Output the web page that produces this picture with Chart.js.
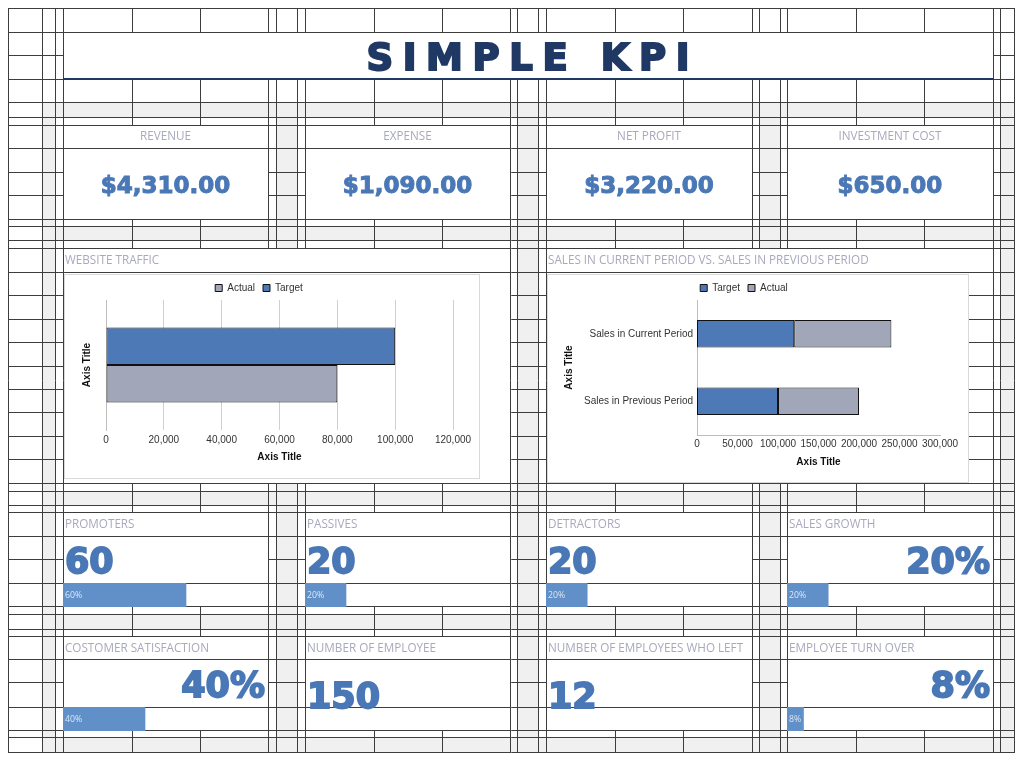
<!DOCTYPE html>
<html><head><meta charset="utf-8">
<script src="https://cdn.jsdelivr.net/npm/chart.js@4.4.1/dist/chart.umd.min.js"></script>
<style>
html,body{margin:0;padding:0;background:#fff;}
#page{position:relative;width:1023px;height:761px;overflow:hidden;}
#bg{position:absolute;left:0;top:0;}
.t{position:absolute;white-space:nowrap;}
.lbl{font-family:'Open Sans',sans-serif;font-size:11.7px;line-height:11.7px;color:#a7a9bc;}
.val{font-family:'DejaVu Sans',sans-serif;font-weight:bold;color:#4a78b6;-webkit-text-stroke:1px #4a78b6;}
.big{-webkit-text-stroke:1.8px #4a78b6;}
.frame{position:absolute;background:#fff;border:1px solid #d9d9d9;box-sizing:border-box;}
.frame canvas{display:block;}
.pb{position:absolute;}
.pct{font-family:'Open Sans',sans-serif;font-size:8.7px;line-height:8.7px;color:#dbe6f3;}
</style></head>
<body><div id="page"><canvas id="bg" width="1023" height="761"></canvas></div>
<script>
// ---------------- DATA ----------------
const titleText = 'SIMPLE KPI';
const kpiLabels = ['REVENUE', 'EXPENSE', 'NET PROFIT', 'INVESTMENT COST'];
const kpiValues = [4310, 1090, 3220, 650];

const trafficTitle = 'WEBSITE TRAFFIC';
const trafficCategories = [''];
const trafficTarget = [100000];
const trafficActual = [80000];
const trafficTicks = [0, 20000, 40000, 60000, 80000, 100000, 120000];

const salesTitle = 'SALES IN CURRENT PERIOD VS. SALES IN PREVIOUS PERIOD';
const salesCategories = ['Sales in Current Period', 'Sales in Previous Period'];
const salesTarget = [120000, 100000];
const salesActual = [120000, 100000];
const salesTicks = [0, 50000, 100000, 150000, 200000, 250000, 300000];

const axisTitle = 'Axis Title';

const metricLabels = ['PROMOTERS', 'PASSIVES', 'DETRACTORS', 'SALES GROWTH',
  'COSTOMER SATISFACTION', 'NUMBER OF EMPLOYEE', 'NUMBER OF EMPLOYEES WHO LEFT', 'EMPLOYEE TURN OVER'];
const metricValues = [60, 20, 20, 20, 40, 150, 12, 8];
const metricUnits = ['', '', '', '%', '%', '', '', '%'];
const metricBars = [60, 20, 20, 20, 40, null, null, 8];

// ---------------- LAYOUT / STYLE ----------------
const BLUE = '#4e79b7', GRAYBAR = '#a1a6b9', PBAR = '#6190c9';
const ROWS = [8,32,55,79,102,117,125,148,172,195,219,226,240,248,272,295,319,342,366,389,412,436,459,483,491,505,512,536,559,583,606,614,629,636,659,682,707,730,737,752];
const COLS = [8,42,55,63,132,200,268,276,297,305,374,442,510,517,538,546,615,683,752,759,780,787,856,924,993,1000,1014];
const PANELS = [[63,268],[305,510],[546,752],[787,993]];
const page = document.getElementById('page');

// background sheet grid
const g = document.getElementById('bg').getContext('2d');
g.fillStyle = '#fff'; g.fillRect(0,0,1023,761);
g.fillStyle = '#f0f0f0';
[[42,55],[276,297],[517,538],[759,780],[1000,1014]].forEach(([a,b]) => g.fillRect(a,102,b-a,752-102));
[[102,117],[226,240],[491,505],[614,629],[737,752]].forEach(([a,b]) => g.fillRect(42,a,1014-42,b-a));
g.strokeStyle = '#3d3d3d'; g.lineWidth = 1;
function hl(y,x0,x1){g.beginPath();g.moveTo(x0,y+0.5);g.lineTo(x1+1,y+0.5);g.stroke();}
function vl(x,y0,y1){g.beginPath();g.moveTo(x+0.5,y0);g.lineTo(x+0.5,y1+1);g.stroke();}
ROWS.forEach(y => hl(y,8,1014));
COLS.forEach(x => vl(x,8,752));
function merge(x0,y0,x1,y1){g.fillStyle='#fff';g.fillRect(x0+1,y0+1,x1-x0-1,y1-y0-1);}
merge(63,32,993,79);
PANELS.forEach(([a,b]) => {
  merge(a,125,b,148); merge(a,148,b,219);
  merge(a,512,b,536); merge(a,536,b,583); merge(a,583,b,606);
  merge(a,636,b,659); merge(a,659,b,707); merge(a,707,b,730);
});
merge(63,248,510,272); merge(63,272,510,483);
merge(546,248,993,272); merge(546,272,993,483);
g.strokeStyle = '#3d3d3d';
[295,319,342,366,389,412,436,459].forEach(y => hl(y,968,993));
g.fillStyle = '#1f3864'; g.fillRect(63,78,931,2);

function addText(cls, text, css){
  const d = document.createElement('div');
  d.className = 't ' + cls; d.textContent = text;
  Object.assign(d.style, css); page.appendChild(d); return d;
}

// title
const tdiv = addText('', '', {left:'63px', width:'930px', top:'39px', textAlign:'center'});
const tspan = document.createElement('span');
tspan.textContent = titleText;
Object.assign(tspan.style, {fontFamily:"'DejaVu Sans'", fontWeight:'bold', fontSize:'37px', lineHeight:'37px',
  color:'#1f3864', webkitTextStroke:'2px #1f3864', letterSpacing:'9.6px', wordSpacing:'1px', marginRight:'-9.6px', display:'inline-block'});
tdiv.appendChild(tspan);

// KPI boxes
const money = v => '$' + v.toLocaleString('en-US', {minimumFractionDigits:2, maximumFractionDigits:2});
kpiLabels.forEach((l,i) => {
  const [a,b] = PANELS[i];
  addText('lbl', l, {left:a+'px', width:(b-a)+'px', textAlign:'center', top:'129.6px'});
  addText('val', money(kpiValues[i]), {left:a+'px', width:(b-a)+'px', textAlign:'center', top:'173.5px', fontSize:'23px', lineHeight:'23px'});
});

// chart section labels
addText('lbl', trafficTitle, {left:'65px', top:'253.6px'});
addText('lbl', salesTitle, {left:'548px', top:'253.6px'});

// metric panels
const metricAlign = ['left','left','left','right','right','left','left','right'];
metricLabels.forEach((l,i) => {
  const [a,b] = PANELS[i % 4];
  const lower = i >= 4;
  const labelTop = lower ? 641.6 : 517.6;
  const barTop = lower ? 707 : 583;
  addText('lbl', l, {left:(a+2)+'px', top:labelTop+'px'});
  const txt = metricValues[i] + metricUnits[i];
  const baseline = lower ? (metricUnits[i] === '%' ? 698 : 709) : 574;
  const css = {top:(baseline - 29.6)+'px', fontSize:'35px', lineHeight:'35px'};
  if (metricAlign[i] === 'left') css.left = (a+2)+'px';
  else { css.left = a+'px'; css.width = (b-a-3)+'px'; css.textAlign = 'right'; }
  addText('val big', txt, css);
  if (metricBars[i] != null) {
    const c = document.createElement('canvas');
    c.className = 'pb'; c.width = b-a; c.height = 24;
    c.style.left = a+'px'; c.style.top = barTop+'px';
    page.appendChild(c);
    new Chart(c, {
      type:'bar',
      data:{labels:[''], datasets:[{data:[metricBars[i]], backgroundColor:PBAR, borderWidth:0, barPercentage:1, categoryPercentage:1}]},
      options:{indexAxis:'y', responsive:false, animation:false, events:[],
        plugins:{legend:{display:false}, tooltip:{enabled:false}},
        layout:{padding:0},
        scales:{x:{display:false, min:0, max:100}, y:{display:false}}}
    });
    addText('pct', metricBars[i] + '%', {left:(a+2)+'px', top:(barTop+7.6)+'px'});
  }
});

// ---------------- CHARTS ----------------
Chart.defaults.font.family = "'Liberation Sans', Arial, sans-serif";
Chart.defaults.font.size = 10;
Chart.defaults.color = '#333';

function makeFrame(left, top, w, h){
  const f = document.createElement('div');
  f.className = 'frame';
  Object.assign(f.style, {left:left+'px', top:top+'px', width:w+'px', height:h+'px'});
  const c = document.createElement('canvas');
  c.width = w-2; c.height = h-2;
  f.appendChild(c); page.appendChild(f); return c;
}

const tickStep = arr => arr[1]-arr[0];

// Website traffic
new Chart(makeFrame(64,274,416,205), {
  type:'bar',
  data:{labels:trafficCategories, datasets:[
    {label:'Target', data:trafficTarget, backgroundColor:BLUE, borderColor:'#111', borderWidth:1, borderSkipped:false, categoryPercentage:0.577, barPercentage:1},
    {label:'Actual', data:trafficActual, backgroundColor:GRAYBAR, borderColor:'#111', borderWidth:1, borderSkipped:false, categoryPercentage:0.577, barPercentage:1}
  ]},
  options:{indexAxis:'y', responsive:false, animation:false, locale:'en-US', events:[],
    layout:{padding:{left:0, right:26, top:0, bottom:0}},
    plugins:{tooltip:{enabled:false},
      legend:{position:'top', reverse:true, maxHeight:25, labels:{boxWidth:7, boxHeight:7, padding:8, color:'#333', font:{size:10}}}},
    scales:{
      x:{min:trafficTicks[0], max:trafficTicks[trafficTicks.length-1],
        ticks:{stepSize:tickStep(trafficTicks), padding:4, color:'#333', maxRotation:0},
        grid:{color:'#d0d0d0', drawTicks:false}, border:{display:false},
        title:{display:true, text:axisTitle, color:'#111', font:{size:10, weight:'bold'}, padding:{top:0, bottom:14.5}},
        afterFit:s => { s.height = 48; }},
      y:{ticks:{display:false}, grid:{display:false}, border:{display:true, color:'#bdbdbd'},
        title:{display:true, text:axisTitle, color:'#111', font:{size:10, weight:'bold'}, padding:{top:16.5, bottom:0}},
        afterFit:s => { s.width = 41; }}
    }}
});

// Sales current vs previous
new Chart(makeFrame(547,274,422,209), {
  type:'bar',
  data:{labels:salesCategories, datasets:[
    {label:'Target', data:salesTarget, backgroundColor:BLUE, borderColor:'#111', borderWidth:1, borderSkipped:false, categoryPercentage:0.41, barPercentage:1},
    {label:'Actual', data:salesActual, backgroundColor:GRAYBAR, borderColor:'#111', borderWidth:1, borderSkipped:false, categoryPercentage:0.41, barPercentage:1}
  ]},
  options:{indexAxis:'y', responsive:false, animation:false, locale:'en-US', events:[],
    layout:{padding:{left:0, right:28, top:0, bottom:0}},
    plugins:{tooltip:{enabled:false},
      legend:{position:'top', maxHeight:25, labels:{boxWidth:7, boxHeight:7, padding:8, color:'#333', font:{size:10}}}},
    scales:{
      x:{stacked:true, min:salesTicks[0], max:salesTicks[salesTicks.length-1],
        ticks:{stepSize:tickStep(salesTicks), padding:3, color:'#333', maxRotation:0},
        grid:{display:false, drawTicks:false}, border:{display:true, color:'#bdbdbd'},
        title:{display:true, text:axisTitle, color:'#111', font:{size:10, weight:'bold'}, padding:{top:0, bottom:13.5}},
        afterFit:s => { s.height = 47; }},
      y:{stacked:true, ticks:{padding:4, color:'#333'}, grid:{display:false, drawTicks:false}, border:{display:true, color:'#bdbdbd'},
        title:{display:true, text:axisTitle, color:'#111', font:{size:10, weight:'bold'}, padding:{top:15, bottom:0}},
        afterFit:s => { s.width = 149; }}
    }}
});
</script>
</body></html>
